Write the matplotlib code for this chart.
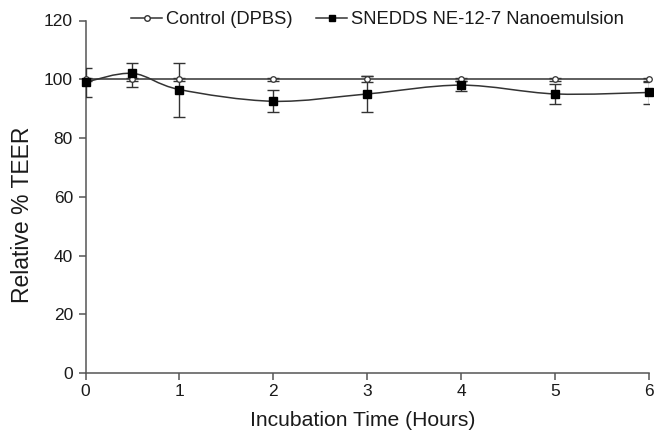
import numpy as np
import matplotlib
matplotlib.use("Agg")
import matplotlib.pyplot as plt
from matplotlib.path import Path
from matplotlib.patches import PathPatch
from matplotlib.lines import Line2D

plt.rcParams['font.family'] = ['Liberation Sans', 'DejaVu Sans']

# Values
hours = [0, 0.5, 1, 2, 3, 4, 5, 6]
control = [100, 100, 100, 100, 100, 100, 100, 100]
control_err = [0.5, 0.5, 0.5, 0.5, 1.0, 0.5, 0.5, 0.5]
snedds = [99, 102, 96.5, 92.5, 95, 98, 95, 95.5]
snedds_err_lo = [5, 4.5, 9.5, 3.5, 6, 2, 3.5, 4]
snedds_err_hi = [5, 3.5, 9, 4, 6, 1.5, 3.5, 3.5]

line_col = "#333333"
axis_col = "#555555"
text_col = "#1a1a1a"


# Smooth curve through the points (Catmull-Rom converted to bezier segments)
def smooth_path(xs, ys):
    pts = np.column_stack([xs, ys]).astype(float)
    verts = [pts[0]]
    codes = [Path.MOVETO]
    n = len(pts)
    for i in range(n - 1):
        p0 = pts[i - 1] if i > 0 else pts[i]
        p1 = pts[i]
        p2 = pts[i + 1]
        p3 = pts[i + 2] if i + 2 < n else pts[i + 1]
        c1 = p1 + (p2 - p0) / 6.0
        c2 = p2 - (p3 - p1) / 6.0
        verts += [c1, c2, p2]
        codes += [Path.CURVE4] * 3
    return Path(verts, codes)


fig = plt.figure(figsize=(6.54, 4.32), dpi=100)
ax = fig.add_axes([85.5 / 654, 1 - 373 / 432, (649 - 85.5) / 654, (373 - 20.5) / 432])

# control series: straight segments
ax.plot(hours, control, color=line_col, lw=1.1, zorder=2)
ax.errorbar(hours, control, yerr=control_err, fmt='none', ecolor=line_col,
            elinewidth=1.0, capsize=4, capthick=1.0, zorder=2)

# SNEDDS series: smoothed line
ax.add_patch(PathPatch(smooth_path(hours, snedds), facecolor='none',
                       edgecolor=line_col, lw=1.1, zorder=3))
ax.errorbar(hours, snedds, yerr=[snedds_err_lo, snedds_err_hi], fmt='none',
            ecolor=line_col, elinewidth=1.0, capsize=4, capthick=1.0, zorder=3)

ax.plot(hours, control, ls='none', marker='o', ms=4, mfc='white', mec=line_col,
        mew=0.9, zorder=5, clip_on=False)
ax.plot(hours, snedds, ls='none', marker='s', ms=5.2, mfc='black', mec='black',
        zorder=6, clip_on=False)

ax.set_xlim(0, 6)
ax.set_ylim(0, 120)
ax.set_xticks(range(0, 7))
ax.set_yticks(range(0, 121, 20))

for s in ['top', 'right']:
    ax.spines[s].set_visible(False)
for s in ['left', 'bottom']:
    ax.spines[s].set_color(axis_col)
    ax.spines[s].set_linewidth(1.1)
ax.tick_params(axis='both', colors=axis_col, labelcolor=text_col, labelsize=12.5,
               length=5, width=1.1)
ax.tick_params(axis='x', pad=3)
ax.tick_params(axis='y', pad=4)

ax.set_xlabel("Incubation Time (Hours)", fontsize=15.2, color=text_col)
ax.set_ylabel("Relative % TEER", fontsize=16.5, color=text_col)
ax.xaxis.set_label_coords((363 - 85.5) / 563.5, -(420 - 373) / 352.5)
ax.yaxis.set_label_coords(-(85.5 - 23) / 563.5, (373 - 215) / 352.5)
ax.xaxis.label.set_va('center')
ax.yaxis.label.set_va('center')

handles = [
    Line2D([], [], color=line_col, lw=1.1, marker='o', ms=4, mfc='white', mec=line_col),
    Line2D([], [], color=line_col, lw=1.1, marker='s', ms=5, mfc='black', mec='black'),
]
fig.legend(handles, ["Control (DPBS)", "SNEDDS NE-12-7 Nanoemulsion"],
           loc='center left', bbox_to_anchor=(131 / 654, 1 - 20 / 432),
           ncol=2, frameon=False, fontsize=13.2, handlelength=1.7,
           handletextpad=0.2, columnspacing=1.3, borderpad=0, borderaxespad=0,
           labelcolor=text_col)

fig.savefig("out.png", dpi=100)
